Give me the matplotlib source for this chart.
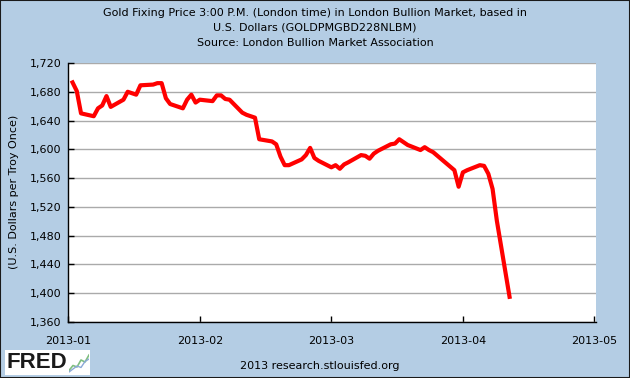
import matplotlib
matplotlib.use("Agg")
import matplotlib.pyplot as plt
from matplotlib.patches import Rectangle
from matplotlib.ticker import FuncFormatter
import pandas as pd

# ---- data ----
dates = [
    "2013-01-02", "2013-01-03", "2013-01-04", "2013-01-07", "2013-01-08", "2013-01-09",
    "2013-01-10", "2013-01-11", "2013-01-14", "2013-01-15", "2013-01-16", "2013-01-17",
    "2013-01-18", "2013-01-21", "2013-01-22", "2013-01-23", "2013-01-24", "2013-01-25",
    "2013-01-28", "2013-01-29", "2013-01-30", "2013-01-31",
    "2013-02-01", "2013-02-04", "2013-02-05", "2013-02-06", "2013-02-07", "2013-02-08",
    "2013-02-11", "2013-02-12", "2013-02-13", "2013-02-14", "2013-02-15", "2013-02-18",
    "2013-02-19", "2013-02-20", "2013-02-21", "2013-02-22", "2013-02-25", "2013-02-26",
    "2013-02-27", "2013-02-28",
    "2013-03-01", "2013-03-04", "2013-03-05", "2013-03-06", "2013-03-07", "2013-03-08",
    "2013-03-11", "2013-03-12", "2013-03-13", "2013-03-14", "2013-03-15", "2013-03-18",
    "2013-03-19", "2013-03-20", "2013-03-21", "2013-03-22", "2013-03-25", "2013-03-26",
    "2013-03-27", "2013-03-28",
    "2013-04-02", "2013-04-03", "2013-04-04", "2013-04-05", "2013-04-08", "2013-04-09",
    "2013-04-10", "2013-04-11", "2013-04-12", "2013-04-15",
]
prices = [
    1693, 1681, 1650, 1646, 1657, 1661,
    1674, 1659, 1669, 1680, 1678, 1676,
    1689, 1690, 1692, 1692, 1671, 1663,
    1657, 1669, 1676, 1665,
    1669, 1667, 1675, 1675, 1670, 1669,
    1651, 1648, 1646, 1644, 1614, 1611,
    1607, 1590, 1578, 1578, 1586, 1592,
    1602, 1588,
    1584, 1575, 1578, 1573, 1579, 1582,
    1592, 1591, 1587, 1594, 1598, 1607,
    1608, 1614, 1610, 1606, 1599, 1603,
    1599, 1596,
    1571, 1548, 1568, 1571, 1578, 1577,
    1566, 1545, 1501, 1395,
]
x_tick_dates = ["2013-01-01", "2013-02-01", "2013-03-04", "2013-04-04", "2013-05-05"]
x_tick_labels = ["2013-01", "2013-02", "2013-03", "2013-04", "2013-05"]
y_ticks = [1360, 1400, 1440, 1480, 1520, 1560, 1600, 1640, 1680, 1720]

title_lines = [
    "Gold Fixing Price 3:00 P.M. (London time) in London Bullion Market, based in",
    "U.S. Dollars (GOLDPMGBD228NLBM)",
    "Source: London Bullion Market Association",
]
y_label = "(U.S. Dollars per Troy Once)"
footer = "2013 research.stlouisfed.org"

# ---- figure ----
BG = "#b4cde4"
plt.rcParams["font.family"] = ["DejaVu Sans"]
fig = plt.figure(figsize=(6.3, 3.78), dpi=100, facecolor=BG)
W, H = 630, 378

ax = fig.add_axes([68.3 / W, 1 - 322 / H, (596 - 68.3) / W, (322 - 63) / H])
ax.set_facecolor("white")

x = pd.to_datetime(dates)
ax.plot(x, prices, color="#ff0000", lw=3.0, zorder=3)

ax.set_ylim(1360, 1720)
ax.set_yticks(y_ticks)
ax.yaxis.set_major_formatter(FuncFormatter(lambda v, p: f"{int(v):,}"))
ax.grid(axis="y", color="#aaaaaa", lw=1.0)
ax.set_axisbelow(True)

xt = pd.to_datetime(x_tick_dates)
ax.set_xlim(pd.Timestamp("2013-01-01"), pd.Timestamp("2013-05-05 09:00"))
ax.set_xticks(xt)
ax.set_xticklabels(x_tick_labels)

for s in ["top", "right"]:
    ax.spines[s].set_visible(False)
for s in ["left", "bottom"]:
    ax.spines[s].set_color("black")
    ax.spines[s].set_linewidth(1.0)

ax.tick_params(axis="y", direction="in", length=4, width=1, labelsize=8, pad=5, colors="black")
ax.tick_params(axis="x", direction="in", length=4, width=1, labelsize=8, pad=10, colors="black")

# titles
for txt, yy in zip(title_lines, [12.5, 28, 43.5]):
    fig.text(0.5, 1 - yy / H, txt, ha="center", va="center", fontsize=8, color="black")

fig.text(14 / W, 1 - 192 / H, y_label, rotation=90, ha="center", va="center", fontsize=8)
fig.text(320 / W, 1 - 366 / H, footer, ha="center", va="center", fontsize=8)

# FRED logo
fig.patches.append(Rectangle((5 / W, 1 - 375 / H), 85 / W, 25 / H, transform=fig.transFigure,
                             facecolor="white", edgecolor="none", zorder=1))
fig.text(6 / W, 1 - 363 / H, "FRED", ha="left", va="center", fontsize=16,
         family=["Liberation Sans", "DejaVu Sans"], fontweight="bold",
         color="#1a1a1a", zorder=2)
icon = fig.add_axes([69 / W, 1 - 373 / H, 20 / W, 20 / H], zorder=5)
icon.set_axis_off()
icon.patch.set_alpha(0)
icon.plot([0, 1, 2, 3, 4, 5], [0.5, 1.5, 1.2, 2.6, 2.2, 3.6], color="#7fbf7f", lw=1.2)
icon.plot([0, 1, 2, 3, 4, 5], [0.2, 0.8, 1.4, 1.1, 2.3, 2.8], color="#8aa8d8", lw=1.0)
icon.set_xlim(0, 5)
icon.set_ylim(0, 4)

# figure border
fig.patches.append(Rectangle((0, 0), 1, 1, transform=fig.transFigure, fill=False,
                             edgecolor="#1a1a1a", lw=1.5, zorder=10))

fig.savefig("out.png", dpi=100, facecolor=BG)
